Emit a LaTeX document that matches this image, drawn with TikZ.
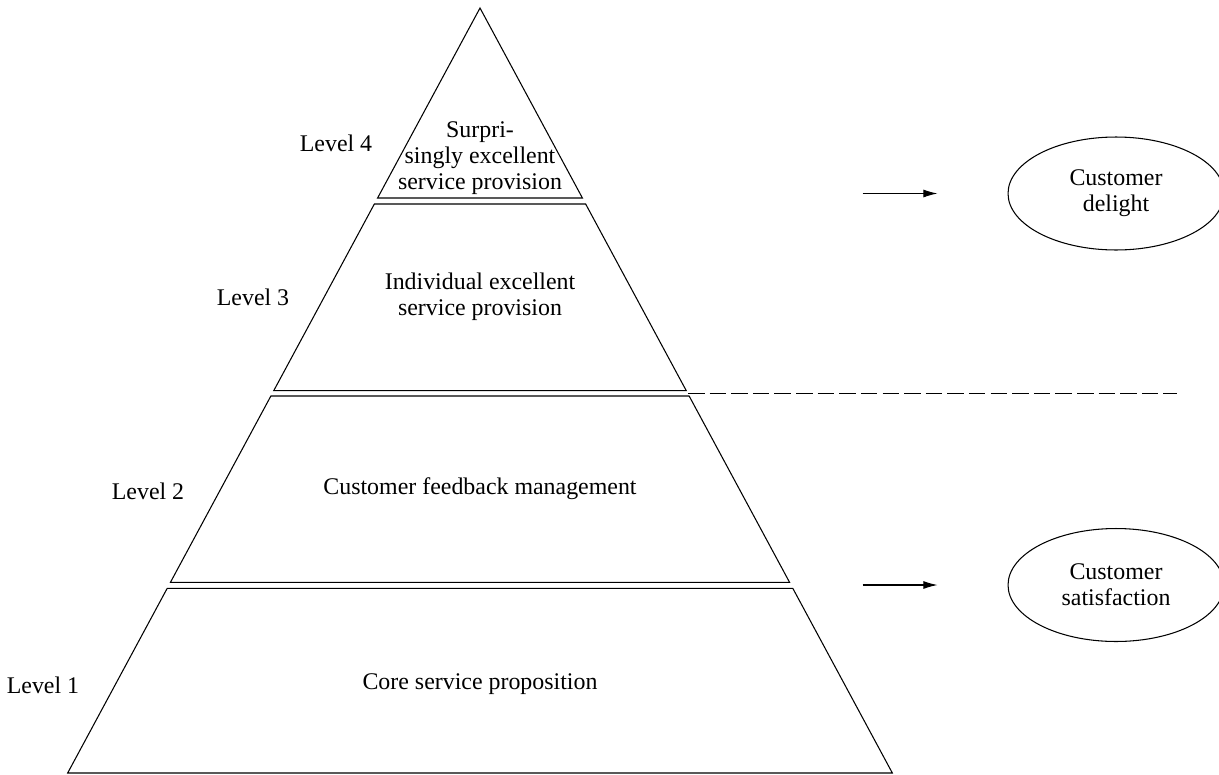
\documentclass[tikz,border=0pt]{standalone}
\usepackage{fontspec}
\setmainfont{Liberation Serif}
\usetikzlibrary{shapes.geometric, arrows.meta, positioning}

\begin{document}
\begin{tikzpicture}[
  x=0.02cm, y=-0.02cm,
  slice/.style={draw, line width=0.6pt},
  txt/.style={align=center, inner sep=0pt, font=\fontsize{13.6}{14.8}\selectfont},
  lvl/.style={inner sep=0pt, font=\fontsize{13.6}{14.8}\selectfont},
  goal/.style={draw, ellipse, line width=0.6pt, minimum width=4.32cm, minimum height=2.26cm, inner sep=0pt, align=center, font=\fontsize{13.6}{14.8}\selectfont},
  arr/.style={-{Latex[length=8pt, width=4.5pt]}, line width=0.6pt}
]
  \useasboundingbox (0,0) rectangle (1219,774);

  % pyramid slices
  \draw[slice] (480,8) -- ({480+0.539*190},198) -- ({480-0.539*190},198) -- cycle;
  \foreach \t/\b in {204/390.7, 396/582.3, 588.3/773}
    \draw[slice] ({480-0.539*(\t-8)},\t) -- ({480+0.539*(\t-8)},\t) -- ({480+0.539*(\b-8)},\b) -- ({480-0.539*(\b-8)},\b) -- cycle;

  \node[txt] (surp) at (480,158) {Surpri-\\singly excellent\\service provision};
  \node[txt] (indiv) at (480,297) {Individual excellent\\service provision};
  \node[txt] (feedback) at (480,489) {Customer feedback management};
  \node[txt] (core) at (480,684) {Core service proposition};

  \node[lvl] (lvlfour) at (336,143) {Level 4};
  \node[lvl] (lvlthree) at (253,297) {Level 3};
  \node[lvl] (lvltwo) at (148,491) {Level 2};
  \node[lvl] (lvlone) at (43,685) {Level 1};

  % outcomes
  \node[goal] (delight) at (1116,193.5) {Customer\\delight};
  \node[goal] (satis) at (1116,585) {Customer\\satisfaction};

  \coordinate[left=1.4cm of delight.west] (delightin);
  \coordinate[left=1.5cm of delightin] (delightout);
  \coordinate[left=1.4cm of satis.west] (satisin);
  \coordinate[left=1.5cm of satisin] (satisout);
  \draw[arr] (delightout) -- (delightin);
  \draw[arr] (satisout) -- (satisin);

  \coordinate (dashfrom) at (688,393.3);
  \coordinate (dashto) at (1177,393.3);
  \draw[line width=0.6pt, dash pattern=on 9.4pt off 2.9pt] (dashfrom) -- (dashto);
\end{tikzpicture}
\end{document}
